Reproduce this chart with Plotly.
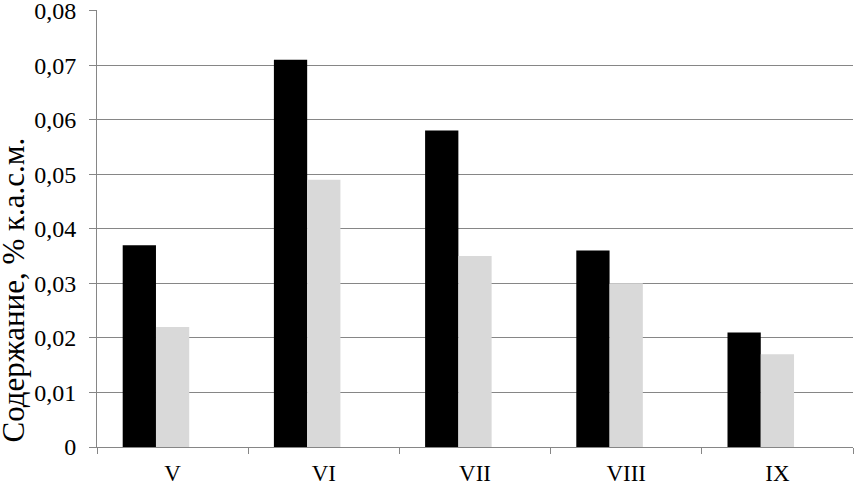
import plotly.graph_objects as go

months = ["V", "VI", "VII", "VIII", "IX"]
series_black = [0.037, 0.071, 0.058, 0.036, 0.021]
series_gray = [0.022, 0.049, 0.035, 0.030, 0.017]

y_ticks = [0, 0.01, 0.02, 0.03, 0.04, 0.05, 0.06, 0.07, 0.08]
y_ticktext = ["0", "0,01", "0,02", "0,03", "0,04", "0,05", "0,06", "0,07", "0,08"]
y_title = "Содержание, % к.а.с.м."

fig = go.Figure()
fig.add_trace(go.Bar(x=months, y=series_black, marker_color="#000000",
                     width=0.22, offset=-0.33, marker_line_width=0))
fig.add_trace(go.Bar(x=months, y=series_gray, marker_color="#d9d9d9",
                     width=0.22, offset=-0.11, marker_line_width=0))

font = "Liberation Serif"
fig.update_layout(
    width=854, height=485,
    margin=dict(l=97, r=1, t=10, b=38),
    plot_bgcolor="white", paper_bgcolor="white",
    showlegend=False,
    barmode="overlay",
    font=dict(family=font, color="black", size=22),
)
fig.update_xaxes(
    type="category", tickson="boundaries", ticks="outside", ticklen=6,
    tickcolor="#868686", showline=True, linecolor="#868686", linewidth=1,
    showgrid=False, tickfont=dict(family=font, size=23), range=[-0.5, 4.5],
    ticklabelstandoff=5, automargin=False,
)
fig.update_yaxes(
    range=[0, 0.0801], tickvals=y_ticks, ticktext=y_ticktext,
    ticks="outside", ticklen=7, tickcolor="#868686",
    showline=True, linecolor="#868686", linewidth=1,
    showgrid=True, gridcolor="#868686", gridwidth=1,
    tickfont=dict(family=font, size=24), ticklabeloverflow="allow",
    ticklabelstandoff=8, automargin=False, zeroline=False,
)

# y title as annotation: it sits lower than the plot center in the original
fig.add_annotation(
    text=y_title, textangle=-90, showarrow=False,
    xref="paper", yref="paper", x=-0.11, y=0.36,
    xanchor="center", yanchor="middle",
    font=dict(family=font, size=31, color="black"),
)

fig.write_html("out.html", config={"displayModeBar": False},
               post_script="document.body.style.margin='0';")
